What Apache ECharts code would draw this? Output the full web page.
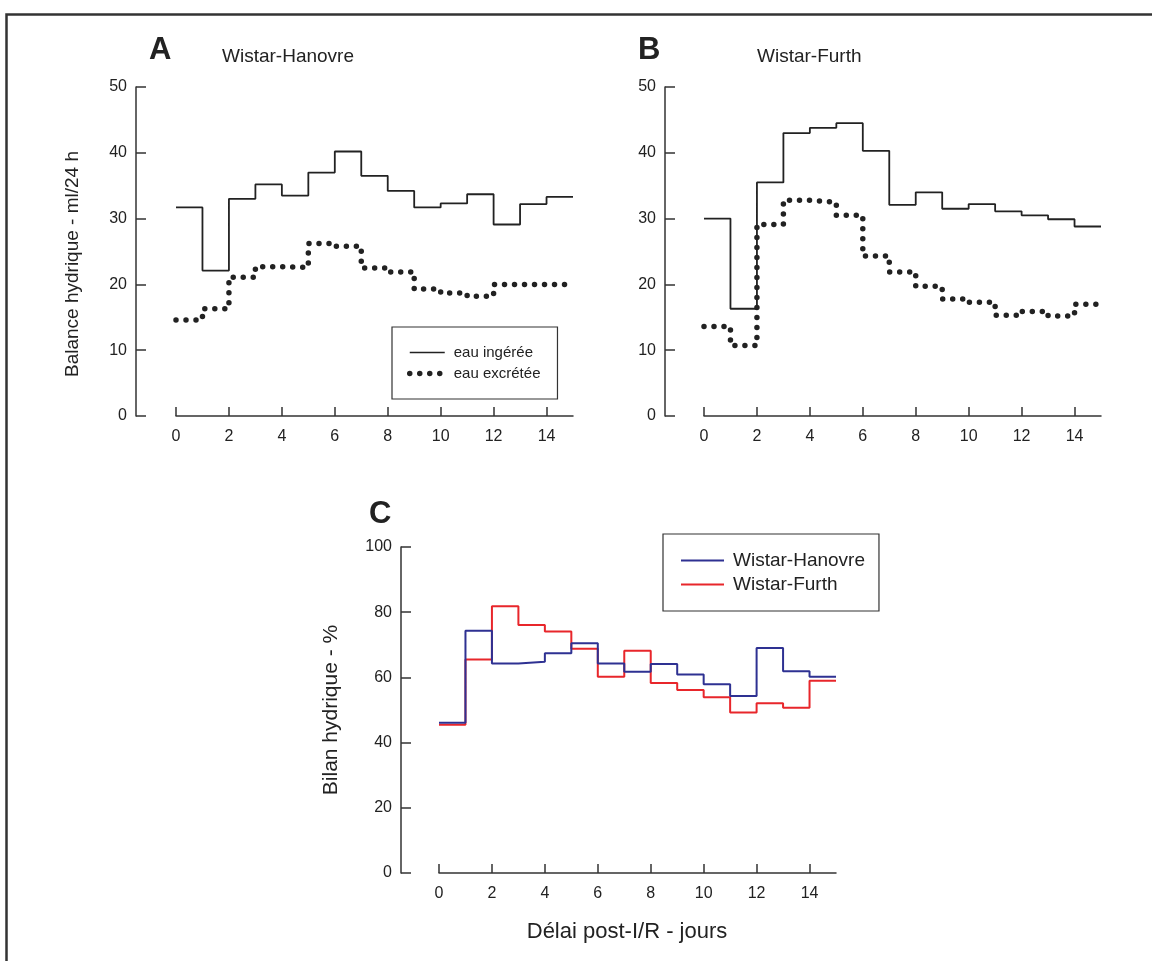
<!DOCTYPE html>
<html>
<head>
<meta charset="utf-8">
<script src="https://cdn.jsdelivr.net/npm/echarts@6/dist/echarts.min.js"></script>
<style>
html,body{margin:0;padding:0;background:#fff;}
#chart{width:1152px;height:961px;}
</style>
</head>
<body>
<div id="chart"></div>
<script>
// ---- data ----
const days = [0,1,2,3,4,5,6,7,8,9,10,11,12,13,14,15];
const xTickValues = [0,2,4,6,8,10,12,14];
const yTicksAB = [0,10,20,30,40,50];
const yTicksC = [0,20,40,60,80,100];

const hanovreIngeree  = [31.7,22.1,33.0,35.2,33.5,37.0,40.2,36.5,34.2,31.7,32.3,33.7,29.1,32.2,33.3];
const hanovreExcretee = [14.6,16.3,21.1,22.7,22.6,26.2,25.8,22.5,21.9,19.3,18.7,18.2,20.0,20.0,20.0];
const furthIngeree    = [30.0,16.3,35.5,43.0,43.8,44.5,40.3,32.1,34.0,31.5,32.2,31.1,30.5,29.9,28.8];
const furthExcretee   = [13.6,10.7,29.1,32.8,32.5,30.5,24.3,21.9,19.7,17.8,17.3,15.3,15.9,15.2,17.0];
const bilanHanovre    = [46.1,74.3,64.3,64.8,67.4,70.5,64.3,61.7,64.1,60.9,57.9,54.3,69.0,61.9,60.2];
const bilanFurth      = [45.5,65.5,81.8,76.1,74.1,68.8,60.2,68.2,58.3,56.1,53.9,49.2,52.1,50.7,59.0];

const seriesNames = ['eau ingérée','eau excrétée','Wistar-Hanovre','Wistar-Furth'];

// step points: value i holds from day i to day i+1
function stepPoints(vals){
  const pts = vals.map((v,i)=>[days[i], v]);
  pts.push([days[vals.length], vals[vals.length-1]]);
  return pts;
}

const FONT = '"Liberation Sans", Arial, Helvetica, sans-serif';
const INK = '#222';

function xAxisFor(gridIndex){
  return {
    type:'value', gridIndex, min:0, max:15,
    axisLine:{show:true, onZero:false, lineStyle:{color:'#333', width:1.5}},
    axisTick:{show:true, inside:true, length:9, customValues:xTickValues, lineStyle:{color:'#333', width:1.5}},
    axisLabel:{customValues:xTickValues, color:INK, fontFamily:FONT, fontSize:16, margin:13},
    splitLine:{show:false}
  };
}
function yAxisFor(gridIndex, max, interval, ticks, offset){
  return {
    type:'value', gridIndex, min:0, max, interval, offset,
    axisLine:{show:true, onZero:false, lineStyle:{color:'#333', width:1.5}},
    axisTick:{show:true, inside:true, length:10, customValues:ticks, lineStyle:{color:'#333', width:1.5}},
    axisLabel:{customValues:ticks, color:INK, fontFamily:FONT, fontSize:16, margin:9},
    splitLine:{show:false}
  };
}

const solid = {color:INK, width:1.8, type:'solid'};
const dotted = {color:INK, width:5.5, type:[0,10], cap:'round'};

const chart = echarts.init(document.getElementById('chart'), null, {renderer:'canvas'});
chart.setOption({
  backgroundColor:'#fff',
  animation:false,
  title:[
    {text:'A', left:149, top:35, padding:0, textStyle:{fontFamily:FONT, fontSize:31, fontWeight:'bold', color:INK}},
    {text:'Wistar-Hanovre', left:222, top:47, padding:0, textStyle:{fontFamily:FONT, fontSize:19, fontWeight:'normal', color:INK}},
    {text:'B', left:638, top:35, padding:0, textStyle:{fontFamily:FONT, fontSize:31, fontWeight:'bold', color:INK}},
    {text:'Wistar-Furth', left:757, top:47, padding:0, textStyle:{fontFamily:FONT, fontSize:19, fontWeight:'normal', color:INK}},
    {text:'C', left:369, top:499, padding:0, textStyle:{fontFamily:FONT, fontSize:31, fontWeight:'bold', color:INK}}
  ],
  grid:[
    {left:176, top:87, width:397, height:329},
    {left:704, top:87, width:397, height:329},
    {left:439, top:547, width:397, height:326}
  ],
  xAxis:[ xAxisFor(0), xAxisFor(1), xAxisFor(2) ],
  yAxis:[
    yAxisFor(0, 50, 10, yTicksAB, 40),
    yAxisFor(1, 50, 10, yTicksAB, 39),
    yAxisFor(2, 100, 20, yTicksC, 38)
  ],
  legend:[
    {
      data:[
        {name:seriesNames[0], lineStyle:{width:1.5}},
        {name:seriesNames[1], lineStyle:{width:5.5, cap:'round', type:[0,10]}}
      ],
      orient:'vertical', left:392, top:327,
      padding:[18,17,18,15], itemWidth:35, itemHeight:14, itemGap:6,
      borderColor:'#333', borderWidth:1.2,
      itemStyle:{opacity:0},
      textStyle:{fontFamily:FONT, fontSize:15, color:INK, padding:[0,0,0,4]}
    },
    {
      data:[seriesNames[2], seriesNames[3]],
      orient:'vertical', left:663, top:534,
      padding:[17,14,17,17], itemWidth:43, itemHeight:16, itemGap:5,
      borderColor:'#333', borderWidth:1.2,
      itemStyle:{opacity:0},
      textStyle:{fontFamily:FONT, fontSize:19, color:INK, padding:[0,0,0,4]}
    }
  ],
  graphic:[
    {type:'rect', left:4, top:12, shape:{x:0, y:0, width:1250, height:1050},
     style:{fill:'none', stroke:'#333', lineWidth:2.5}, silent:true},
    {type:'text', x:73, y:264, rotation:Math.PI/2, silent:true,
     style:{text:'Balance hydrique - ml/24 h', fontFamily:FONT, fontSize:19, fill:INK, align:'center', verticalAlign:'middle'}},
    {type:'text', x:331, y:710, rotation:Math.PI/2, silent:true,
     style:{text:'Bilan hydrique - %', fontFamily:FONT, fontSize:21, fill:INK, align:'center', verticalAlign:'middle'}},
    {type:'text', x:627, y:932, silent:true,
     style:{text:'Délai post-I/R - jours', fontFamily:FONT, fontSize:22, fill:INK, align:'center', verticalAlign:'middle'}}
  ],
  series:[
    {name:seriesNames[0], type:'line', xAxisIndex:0, yAxisIndex:0, step:'end', showSymbol:false, symbol:'none',
     data:stepPoints(hanovreIngeree), lineStyle:solid, itemStyle:{color:INK}},
    {name:seriesNames[1], type:'line', xAxisIndex:0, yAxisIndex:0, step:'end', showSymbol:false, symbol:'none',
     data:stepPoints(hanovreExcretee), lineStyle:dotted, itemStyle:{color:INK}},
    {name:'WF ingérée', type:'line', xAxisIndex:1, yAxisIndex:1, step:'end', showSymbol:false, symbol:'none',
     data:stepPoints(furthIngeree), lineStyle:solid, itemStyle:{color:INK}},
    {name:'WF excrétée', type:'line', xAxisIndex:1, yAxisIndex:1, step:'end', showSymbol:false, symbol:'none',
     data:stepPoints(furthExcretee), lineStyle:dotted, itemStyle:{color:INK}},
    {name:seriesNames[3], type:'line', xAxisIndex:2, yAxisIndex:2, step:'end', showSymbol:false, symbol:'none',
     data:stepPoints(bilanFurth), lineStyle:{color:'#e8262b', width:2}, itemStyle:{color:'#e8262b'}},
    {name:seriesNames[2], type:'line', xAxisIndex:2, yAxisIndex:2, step:'end', showSymbol:false, symbol:'none',
     data:stepPoints(bilanHanovre), lineStyle:{color:'#2e3192', width:2}, itemStyle:{color:'#2e3192'}}
  ]
});
</script>
</body>
</html>
